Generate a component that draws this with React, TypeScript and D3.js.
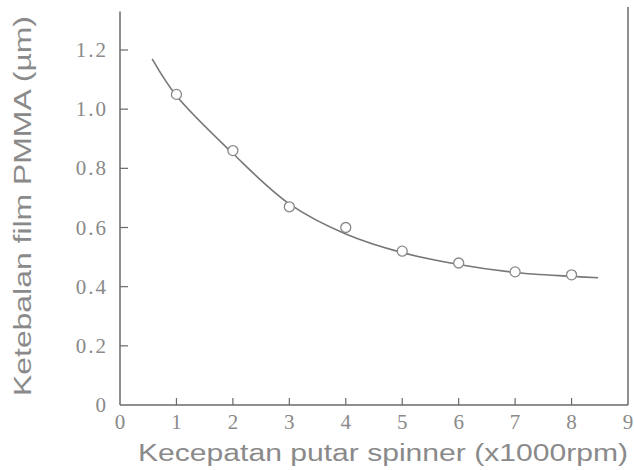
import React, { useEffect, useRef } from 'react'
import * as d3 from 'd3'

// measured points (x1000 rpm, um)
const speeds = [1, 2, 3, 4, 5, 6, 7, 8]
const thickness = [1.05, 0.86, 0.67, 0.6, 0.52, 0.48, 0.45, 0.44]

// fitted curve
const curveX = [0.57, 1, 2, 3, 4, 5, 6, 7, 8, 8.47]
const curveY = [1.17, 1.045, 0.85, 0.68, 0.578, 0.515, 0.475, 0.448, 0.435, 0.43]

const xTicks = [0, 1, 2, 3, 4, 5, 6, 7, 8, 9]
const yTicks = [0, 0.2, 0.4, 0.6, 0.8, 1.0, 1.2]
const yTickLabels = ['0', '0.2', '0.4', '0.6', '0.8', '1.0', '1.2']

const W = 634
const H = 470

const App = () => {
  const ref = useRef<SVGSVGElement>(null)

  useEffect(() => {
    const svg = d3.select(ref.current)
    svg.selectAll('*').remove()

    const axisColor = '#6a6a6a'
    const textColor = '#8a8a8a'

    const x = d3.scaleLinear().domain([0, 9]).range([120, 628])
    const y = d3.scaleLinear().domain([0, 1.2]).range([405, 50])

    const g = svg.append('g')

    // axes frame
    g.append('line')
      .attr('x1', x(0)).attr('x2', x(0))
      .attr('y1', y(1.33)).attr('y2', y(0))
      .attr('stroke', axisColor).attr('stroke-width', 1.5)
    g.append('line')
      .attr('x1', x(0)).attr('x2', x(9))
      .attr('y1', y(0)).attr('y2', y(0))
      .attr('stroke', axisColor).attr('stroke-width', 1.5)
    g.append('line')
      .attr('x1', x(9)).attr('x2', x(9))
      .attr('y1', y(1.345)).attr('y2', y(0))
      .attr('stroke', axisColor).attr('stroke-width', 1.5)

    // y ticks (inward)
    g.selectAll('.yt')
      .data(yTicks.slice(1))
      .join('line')
        .attr('x1', x(0)).attr('x2', x(0) + 8)
        .attr('y1', d => y(d)).attr('y2', d => y(d))
        .attr('stroke', axisColor).attr('stroke-width', 1.2)

    g.selectAll('.ytl')
      .data(yTicks)
      .join('text')
        .attr('x', 108)
        .attr('y', d => y(d) + 7)
        .attr('text-anchor', 'end')
        .attr('font-family', 'Liberation Serif')
        .attr('font-size', 21)
        .attr('letter-spacing', 2)
        .attr('fill', textColor)
        .text((d, i) => yTickLabels[i])

    // x ticks (inward)
    g.selectAll('.xt')
      .data(xTicks.slice(1, -1))
      .join('line')
        .attr('x1', d => x(d)).attr('x2', d => x(d))
        .attr('y1', y(0)).attr('y2', y(0) - 7)
        .attr('stroke', axisColor).attr('stroke-width', 1.2)

    g.selectAll('.xtl')
      .data(xTicks)
      .join('text')
        .attr('x', d => x(d))
        .attr('y', 429)
        .attr('text-anchor', 'middle')
        .attr('font-family', 'Liberation Serif')
        .attr('font-size', 21)
        .attr('fill', textColor)
        .text(d => d)

    // fitted curve
    const line = d3.line<number>()
      .x((d, i) => x(curveX[i]))
      .y(d => y(d))
      .curve(d3.curveCatmullRom.alpha(0.5))
    g.append('path')
      .attr('d', line(curveY))
      .attr('fill', 'none')
      .attr('stroke', '#777')
      .attr('stroke-width', 1.6)

    // data markers
    g.selectAll('.pt')
      .data(thickness)
      .join('circle')
        .attr('cx', (d, i) => x(speeds[i]))
        .attr('cy', d => y(d))
        .attr('r', 5)
        .attr('fill', '#fff')
        .attr('stroke', '#888')
        .attr('stroke-width', 1.3)

    // axis titles
    g.append('text')
      .attr('x', 138)
      .attr('y', 461)
      .attr('font-family', 'Liberation Sans')
      .attr('font-size', 23)
      .attr('textLength', 490)
      .attr('lengthAdjust', 'spacingAndGlyphs')
      .attr('fill', textColor)
      .text('Kecepatan putar spinner (x1000rpm)')

    g.append('text')
      .attr('transform', `translate(31, 396) rotate(-90)`)
      .attr('font-family', 'Liberation Sans')
      .attr('font-size', 23)
      .attr('textLength', 380)
      .attr('lengthAdjust', 'spacingAndGlyphs')
      .attr('fill', textColor)
      .text('Ketebalan film PMMA  (µm)')
  }, [])

  return (
    <svg
      ref={ref}
      width={W}
      height={H}
      style={{ position: 'absolute', left: 0, top: 0, background: '#fff' }}
    />
  )
}

export default App
